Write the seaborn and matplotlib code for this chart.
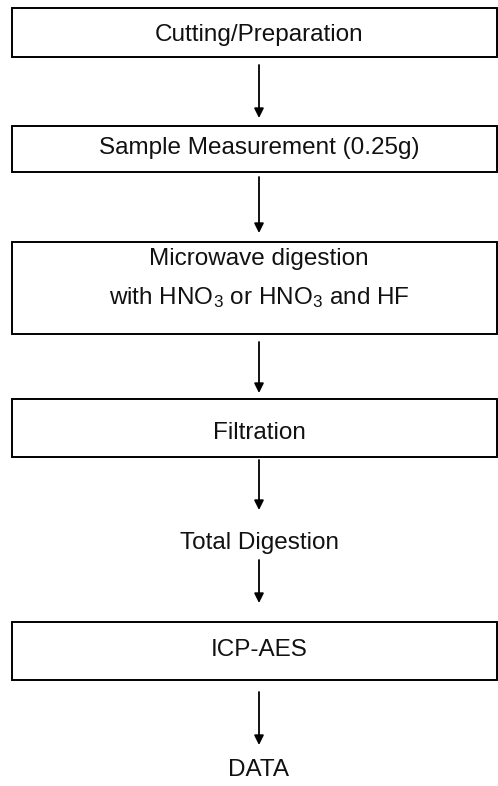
import matplotlib
matplotlib.use("Agg")
import matplotlib.pyplot as plt
import seaborn as sns
from matplotlib.patches import Rectangle

sns.set_theme(style="white")
plt.rcParams['font.family'] = ['Liberation Sans', 'DejaVu Sans']
plt.rcParams['mathtext.fontset'] = 'custom'
plt.rcParams['mathtext.rm'] = 'Liberation Sans'

# Flow steps (text content)
steps = [
    "Cutting/Preparation",
    "Sample Measurement (0.25g)",
    "Microwave digestion\nwith HNO$\\mathregular{_3}$ or HNO$\\mathregular{_3}$ and HF",
    "Filtration",
    "Total Digestion",
    "ICP-AES",
    "DATA",
]
boxed = [True, True, True, True, False, True, False]

# Layout (pixel coordinates)
box_spans = [(8, 57), (126, 172), (242, 334), (399, 457), None, (622, 680), None]
text_y = [35, 148, 279, 433, 543, 650, 770]
arrows = [(65, 118), (177, 233), (342, 393), (460, 510), (560, 603), (692, 745)]
x_left, x_right, x_mid = 12, 497, 259

W, H = 498, 786
fig = plt.figure(figsize=(W / 100, H / 100), dpi=100)
ax = fig.add_axes([0, 0, 1, 1])
ax.set_xlim(0, W)
ax.set_ylim(H, 0)
ax.axis("off")

for label, has_box, span, ty in zip(steps, boxed, box_spans, text_y):
    if has_box:
        ax.add_patch(Rectangle((x_left, span[0]), x_right - x_left, span[1] - span[0],
                               fill=False, edgecolor="black", linewidth=1.4))
    ax.text(x_mid, ty, label, ha="center", va="center", fontsize=17.5,
            color="#111111", linespacing=1.75)

for y0, y1 in arrows:
    ax.annotate("", xy=(x_mid, y1), xytext=(x_mid, y0),
                arrowprops=dict(arrowstyle="-|>", color="black", lw=1.3,
                                mutation_scale=14, shrinkA=0, shrinkB=0))

fig.savefig("out.png", dpi=100)
